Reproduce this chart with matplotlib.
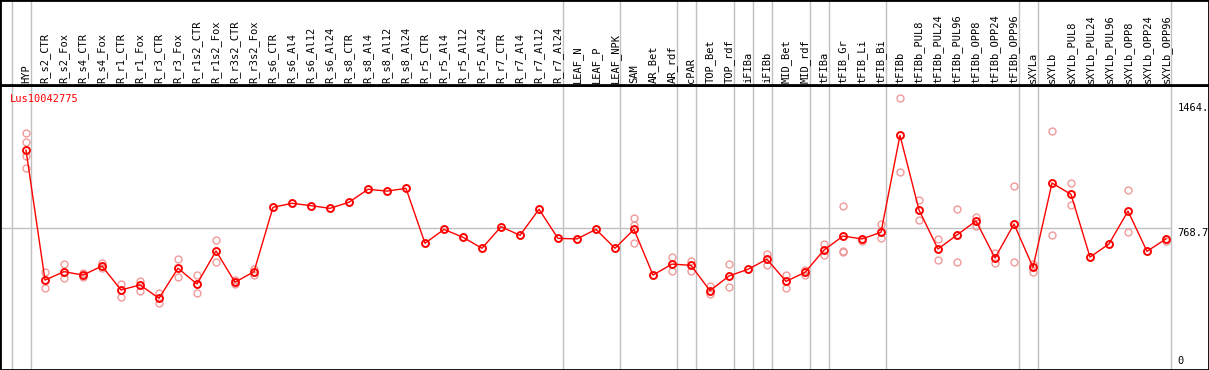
import matplotlib
matplotlib.use("Agg")
import matplotlib.pyplot as plt

names = [
    "HYP", "R_s2_CTR", "R_s2_Fox", "R_s4_CTR", "R_s4_Fox", "R_r1_CTR", "R_r1_Fox",
    "R_r3_CTR", "R_r3_Fox", "R_r1s2_CTR", "R_r1s2_Fox", "R_r3s2_CTR", "R_r3s2_Fox",
    "R_s6_CTR", "R_s6_Al4", "R_s6_Al12", "R_s6_Al24", "R_s8_CTR", "R_s8_Al4",
    "R_s8_Al12", "R_s8_Al24", "R_r5_CTR", "R_r5_Al4", "R_r5_Al12", "R_r5_Al24",
    "R_r7_CTR", "R_r7_Al4", "R_r7_Al12", "R_r7_Al24", "LEAF_N", "LEAF_P", "LEAF_NPK",
    "SAM", "AR_Bet", "AR_rdf", "cPAR", "TOP_Bet", "TOP_rdf", "iFIBa", "iFIBb",
    "MID_Bet", "MID_rdf", "tFIBa", "tFIB_Gr", "tFIB_Li", "tFIB_Bi", "tFIBb",
    "tFIBb_PUL8", "tFIBb_PUL24", "tFIBb_PUL96", "tFIBb_OPP8", "tFIBb_OPP24",
    "tFIBb_OPP96", "sXYLa", "sXYLb", "sXYLb_PUL8", "sXYLb_PUL24", "sXYLb_PUL96",
    "sXYLb_OPP8", "sXYLb_OPP24", "sXYLb_OPP96",
]

means = [
    1202, 479, 526, 507, 557, 424, 452, 378, 545, 457, 641, 467, 526,
    884, 906, 893, 878, 912, 984, 974, 989,
    684, 761, 717, 656, 776, 728, 873, 711,
    708, 761, 656,
    761, 507, 568, 561, 420, 502, 539, 595, 472, 522,
    646, 724, 708, 745, 1284, 869, 652, 730, 808, 602, 791,
    550, 1019, 956, 607, 680, 863, 639, 708,
]

replicates = [
    [1295, 1249, 1169, 1101], [522, 437], [567, 489], [520, 498], [572, 545],
    [457, 387], [474, 418], [409, 353], [595, 494], [507, 405], [702, 578],
    [479, 456], [539, 507],
    [], [], [], [], [], [], [], [],
    [], [], [], [], [], [], [], [],
    [], [], [],
    [823, 785, 684], [], [606, 531], [587, 531], [448, 402], [567, 439], [],
    [622, 563], [507, 437], [537, 506],
    [678, 619], [889, 642, 637], [694], [791, 713], [1490, 1078], [924, 813],
    [706, 589], [874, 578], [832, 781], [628, 572], [1001, 578],
    [568, 522], [1308, 730], [1019, 895], [], [], [980, 745], [], [695],
]

# last index of each tissue group (gray separators)
group_ends = [-1, 0, 28, 31, 34, 35, 37, 38, 39, 41, 42, 45, 52, 53, 60]

gene = "Lus10042775"
mean_line = 768.7
top_value = 1464

W, H = 1209, 370
header_px = 85
fig = plt.figure(figsize=(W / 100, H / 100), dpi=100)
ax = fig.add_axes([0, 0, 1, (H - header_px) / H])
hx = fig.add_axes([0, (H - header_px) / H, 1, header_px / H], sharex=ax)

mono = "DejaVu Sans Mono"
grid_c = "#c0c0c0"
x = list(range(len(names)))

for a in (ax, hx):
    for e in group_ends:
        a.axvline(e + 0.25, color=grid_c, lw=1, zorder=0)
    for s in a.spines.values():
        s.set_color("black")
        s.set_linewidth(2)
    a.set_xticks([])
    a.set_yticks([])

ax.hlines(mean_line, -2, group_ends[-1] + 0.25, color=grid_c, lw=1, zorder=0)

for i, reps in enumerate(replicates):
    if reps:
        ax.plot([i] * len(reps), reps, "o", ms=5, mfc="none", mec="#f09a9a",
                mew=1, zorder=2)

ax.plot(x, means, "-", color="red", lw=1, marker="o", ms=5, mfc="none",
        mec="red", mew=1.4, zorder=3)

ax.set_xlim(-26 / 19, (W - 26) / 19)
ax.set_ylim(-21, 1564)

for i, n in enumerate(names):
    hx.text(i, 0.02, n, rotation=90, ha="center", va="bottom",
            fontsize=7.5, family=mono)
hx.set_ylim(0, 1)

ax.text(0.008, 0.97, gene, transform=ax.transAxes, color="red",
        fontsize=7.5, family=mono, ha="left", va="top")

tr = ax.get_yaxis_transform()
ax.text(0.974, top_value, "1464.", transform=tr, fontsize=7.5, family=mono,
        ha="left", va="top")
ax.text(0.974, mean_line, "768.7", transform=tr, fontsize=7.5, family=mono,
        ha="left", va="top")
ax.text(0.974, 0, "0", transform=tr, fontsize=7.5, family=mono,
        ha="left", va="bottom")

fig.savefig("out.png", dpi=100)
